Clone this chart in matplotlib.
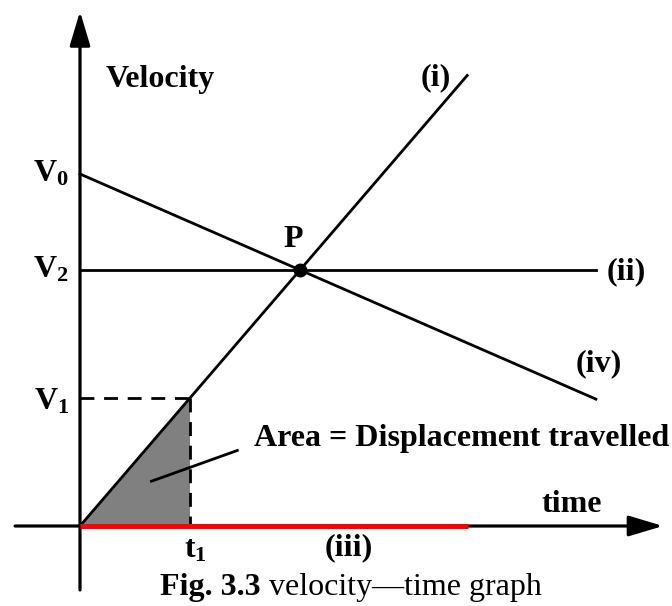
import numpy as np
import matplotlib
matplotlib.use("Agg")
import matplotlib.pyplot as plt

plt.rcParams["font.family"] = ["Liberation Serif", "DejaVu Serif"]
plt.rcParams["mathtext.fontset"] = "custom"
plt.rcParams["mathtext.rm"] = "Liberation Serif:bold"
plt.rcParams["mathtext.it"] = "Liberation Serif:bold"
plt.rcParams["mathtext.bf"] = "Liberation Serif:bold"

# ---- values (time in units of t1, velocity in units of V1) ----
t1 = 1.0
V1 = 1.0
V2 = 2.0
V0 = 2.75
t_P = 2.0
t_end_i = 3.52          # end of line (i)
t_end = 4.69            # end of lines (ii) and (iv)
t_end_iii = 3.53        # end of red line (iii)
t_axis = [-0.59, 5.30]  # time axis extent
v_axis = [-0.5, 4.02]   # velocity axis extent

t_i = np.array([0.0, t_end_i])
v_i = V1 / t1 * t_i
t_ii = np.array([0.0, t_end])
v_ii = np.array([V2, V2])
t_iii = np.array([0.0, t_end_iii])
v_iii = np.array([0.0, 0.0])
t_iv = np.array([0.0, t_end])
v_iv = V0 + (V2 - V0) / t_P * t_iv

fig = plt.figure(figsize=(6.72, 6.06), dpi=100)
ax = fig.add_axes([0, 0, 1, 1])
ax.set_xlim(-80 / 110, 592 / 110)
ax.set_ylim(-80 / 128, 526 / 128)
ax.axis("off")

lw = 2.0
# axes with arrow heads
arr = dict(arrowstyle="-|>,head_length=1.5,head_width=0.45", mutation_scale=14,
           color="k", lw=2.3, shrinkA=0, shrinkB=0)
ax.annotate("", xy=(t_axis[1], 0), xytext=(t_axis[0], 0), arrowprops=arr)
ax.annotate("", xy=(0, v_axis[1]), xytext=(0, v_axis[0]), arrowprops=arr)

# shaded area under (i) up to t1
ax.fill([0, t1, t1], [0, V1, 0], color="#808080", lw=0, zorder=1)
ax.plot([0, t1], [V1, V1], "k--", lw=lw, dashes=(5, 3.5))
ax.plot([t1, t1], [V1, 0], "k--", lw=lw, dashes=(5, 3.5))

ax.plot(t_i, v_i, "k", lw=lw)
ax.plot(t_ii, v_ii, "k", lw=lw)
ax.plot(t_iv, v_iv, "k", lw=lw)
ax.plot(t_iii, v_iii, color="#ff0000", lw=3.6, solid_capstyle="butt", zorder=3)
ax.plot([t_P], [V2], "ko", ms=9, zorder=4)

fs = 23
bold = dict(fontsize=fs, fontweight="bold")
ax.text(0.23, 3.49, "Velocity", ha="left", va="center", **bold)
ax.text(-0.1, V0, r"$\mathrm{V}_{0}$", ha="right", va="center", fontsize=fs)
ax.text(-0.1, V2, r"$\mathrm{V}_{2}$", ha="right", va="center", fontsize=fs)
ax.text(-0.1, V1 - 0.03, r"$\mathrm{V}_{1}$", ha="right", va="center", fontsize=fs)
ax.text(t_P - 0.06, V2 + 0.24, "P", ha="center", va="center", **bold)
ax.text(t_end_i - 0.15, 3.5, "(i)", ha="right", va="center", **bold)
ax.text(t_end + 0.1, V2 - 0.01, "(ii)", ha="left", va="center", **bold)
ax.text(t_end - 0.18, v_iv[-1] + 0.28, "(iv)", ha="left", va="center", **bold)
ax.text(2.66, -0.17, "(iii)", ha="right", va="center", **bold)
ax.text(4.2, 0.17, "time", ha="left", va="center", **bold)
ax.text(t1 + 0.05, -0.19, r"$\mathrm{t}_{1}$", ha="center", va="center", fontsize=fs)

# area label with pointer
ax.plot([0.65, 1.43], [0.35, 0.59], "k", lw=lw)
ax.text(1.58, 0.68, "Area = Displacement travelled", ha="left", va="center", **bold)

# caption
cap = ax.text(0.73, -0.48, "Fig. 3.3", ha="left", va="center", **bold)
fig.canvas.draw()
bb = cap.get_window_extent()
x1 = ax.transData.inverted().transform((bb.x1, bb.y0))[0]
ax.text(x1, -0.48, " velocity\u2014time graph", ha="left", va="center", fontsize=fs)

fig.savefig("out.png", dpi=100)
